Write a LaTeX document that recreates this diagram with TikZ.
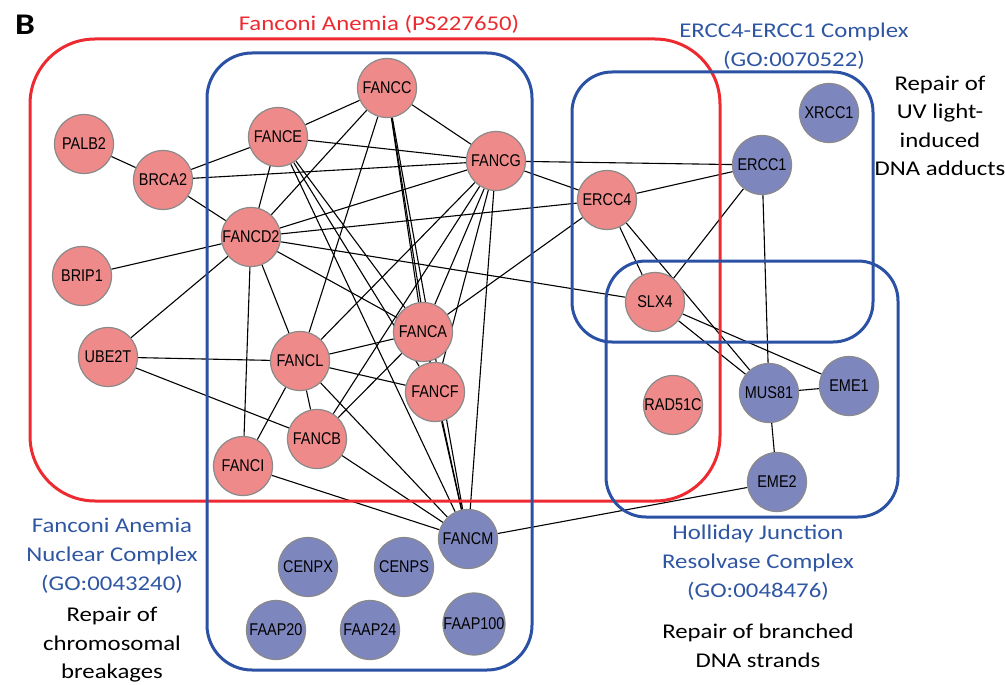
\documentclass[tikz,border=0pt]{standalone}
\usepackage{fontspec}
\setmainfont{Carlito}
\newfontfamily\labfont[FakeStretch=1.18]{Carlito}
\newfontfamily\nodefont[FakeStretch=0.85]{Liberation Sans}
\definecolor{nodepink}{HTML}{EE8A89}
\definecolor{nodeblue}{HTML}{7E86BE}
\definecolor{nodeline}{HTML}{8A8A8A}
\definecolor{boxred}{HTML}{EC2A30}
\definecolor{boxblue}{HTML}{2A51A3}
\definecolor{txtblue}{HTML}{2F56A3}
\definecolor{txtred}{HTML}{EC2A30}
\pgfdeclarelayer{edges}
\pgfdeclarelayer{boxes}
\pgfsetlayers{edges,boxes,main}
\begin{document}
\begin{tikzpicture}[x=1pt,y=-1pt,
  gene/.style={circle, draw=nodeline, line width=1.2pt, minimum size=59pt, inner sep=0pt,
    font=\nodefont\fontsize{17}{18}\selectfont},
  fa/.style={gene, fill=nodepink},
  cx/.style={gene, fill=nodeblue},
  edge/.style={line width=1.1pt, black},
  redbox/.style={draw=boxred, line width=3pt},
  bluebox/.style={draw=boxblue, line width=3pt},
  bluetxt/.style={text=txtblue, align=center, font=\labfont\fontsize{21}{29}\selectfont, inner sep=0pt},
  blacktxt/.style={text=black, align=center, font=\labfont\fontsize{21}{28.5}\selectfont, inner sep=0pt},
]
\useasboundingbox (0,0) rectangle (1005,685);

% nodes
\node[fa] (PALB2) at (84,144) {PALB2};
\node[fa] (BRCA2) at (163,180) {BRCA2};
\node[fa] (BRIP1) at (82,276) {BRIP1};
\node[fa] (UBE2T) at (108,357) {UBE2T};
\node[fa] (FANCE) at (278,137) {FANCE};
\node[fa] (FANCC) at (387,88) {FANCC};
\node[fa] (FANCG) at (496,161) {FANCG};
\node[fa] (FANCD2) at (251,237) {FANCD2};
\node[fa] (FANCA) at (423,332) {FANCA};
\node[fa] (FANCL) at (300,361) {FANCL};
\node[fa] (FANCF) at (435,392) {FANCF};
\node[fa] (FANCB) at (317,439) {FANCB};
\node[fa] (FANCI) at (243,466) {FANCI};
\node[cx] (FANCM) at (468,539) {FANCM};
\node[cx] (CENPX) at (308,567) {CENPX};
\node[cx] (CENPS) at (404,567) {CENPS};
\node[cx] (FAAP20) at (276,630) {FAAP20};
\node[cx] (FAAP24) at (370,630) {FAAP24};
\node[cx] (FAAP100) at (474,624) {FAAP100};
\node[fa] (ERCC4) at (607,200) {ERCC4};
\node[cx] (ERCC1) at (762,165) {ERCC1};
\node[cx] (XRCC1) at (829,113) {XRCC1};
\node[fa] (SLX4) at (655,302) {SLX4};
\node[fa] (RAD51C) at (673,405) {RAD51C};
\node[cx] (MUS81) at (769,393) {MUS81};
\node[cx] (EME1) at (849,386) {EME1};
\node[cx] (EME2) at (777,482) {EME2};

% edges
\begin{pgfonlayer}{edges}
\foreach \a/\b in {PALB2/BRCA2, BRCA2/FANCE, BRCA2/FANCG, BRCA2/FANCD2,
  BRIP1/FANCD2, UBE2T/FANCD2, UBE2T/FANCL, UBE2T/FANCB,
  FANCE/FANCC, FANCE/FANCG, FANCE/FANCD2, FANCE/FANCA, FANCE/FANCF, FANCE/FANCM,
  FANCC/FANCG, FANCC/FANCD2, FANCC/FANCL, FANCC/FANCA, FANCC/FANCF, FANCC/FANCM,
  FANCG/FANCD2, FANCG/ERCC1, FANCG/ERCC4, FANCG/FANCL, FANCG/FANCB, FANCG/FANCA,
  FANCG/FANCF, FANCG/FANCM,
  FANCD2/FANCL, FANCD2/FANCI, FANCD2/FANCA, FANCD2/ERCC4, FANCD2/SLX4,
  FANCL/FANCA, FANCL/FANCF, FANCL/FANCB, FANCL/FANCI, FANCL/FANCM,
  FANCB/FANCA, FANCB/FANCM, FANCI/FANCM, FANCA/FANCM, FANCF/FANCM,
  FANCA/ERCC4, ERCC4/ERCC1, ERCC4/SLX4, ERCC4/MUS81, ERCC1/SLX4, ERCC1/MUS81,
  SLX4/MUS81, SLX4/EME1, MUS81/EME1, MUS81/EME2, EME2/FANCM}
  \draw[edge] (\a) -- (\b);
\end{pgfonlayer}

% boxes
\begin{pgfonlayer}{boxes}
\draw[redbox, rounded corners=65pt] (30,39) rectangle (720,501);
\draw[bluebox, rounded corners=45pt] (207,53) rectangle (532,670);
\draw[bluebox, rounded corners=40pt] (572,72) rectangle (873,342);
\draw[bluebox, rounded corners=40pt] (606,261) rectangle (898,517);
\end{pgfonlayer}

% labels
\node[font=\labfont\fontsize{30}{30}\selectfont\bfseries, inner sep=0pt] (panel) at (25,25) {B};
\node[text=txtred, font=\labfont\fontsize{21}{29}\selectfont, inner sep=0pt] (fatitle) at (379,24) {Fanconi Anemia (PS227650)};
\node[bluetxt] (erlab) at (794,46) {ERCC4-ERCC1 Complex\\(GO:0070522)};
\node[blacktxt] (uvlab) at (940,126) {Repair of\\UV light-\\induced\\DNA adducts};
\node[bluetxt] (fanlab) at (112,556) {Fanconi Anemia\\Nuclear Complex\\(GO:0043240)};
\node[blacktxt] (chlab) at (112,645) {Repair of\\chromosomal\\breakages};
\node[bluetxt] (hjlab) at (758,563) {Holliday Junction\\Resolvase Complex\\(GO:0048476)};
\node[blacktxt] (brlab) at (758,646) {Repair of branched\\DNA strands};
\end{tikzpicture}
\end{document}
